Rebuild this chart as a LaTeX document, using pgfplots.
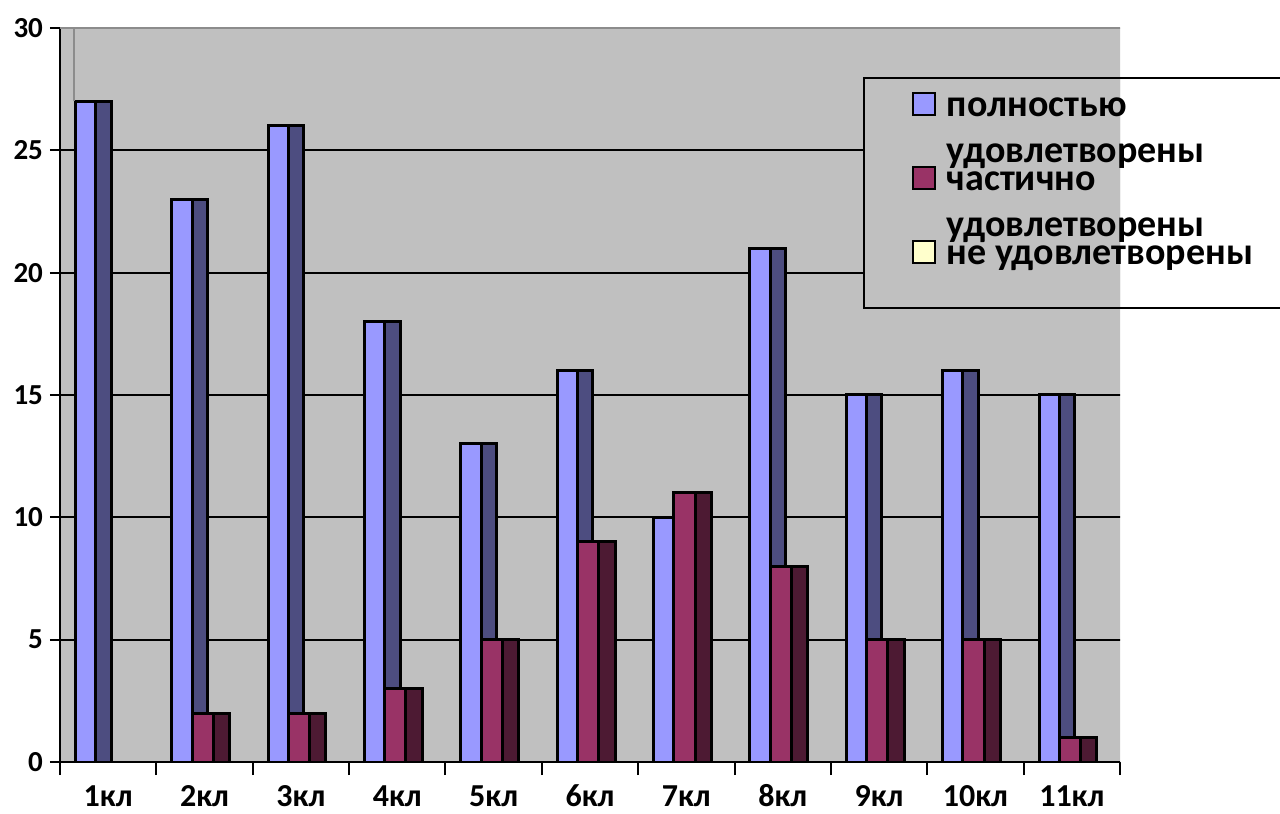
\documentclass[border=0pt]{standalone}
\usepackage{pgfplots}
\usepackage{pgfplotstable}
\pgfplotsset{compat=1.18}
\usepackage{fontspec}
\setmainfont{Carlito}
\definecolor{wall}{HTML}{C0C0C0}
\definecolor{bluef}{HTML}{9999FF}
\definecolor{blues}{HTML}{4D4D80}
\definecolor{marf}{HTML}{993366}
\definecolor{mars}{HTML}{4D1A33}
\definecolor{yel}{HTML}{FFFFCC}
\definecolor{edge}{HTML}{8C8C8C}
\pgfplotstableread{
x full part none
0 27 0 0
1 23 2 0
2 26 2 0
3 18 3 0
4 13 5 0
5 16 9 0
6 10 11 0
7 21 8 0
8 15 5 0
9 16 5 0
10 15 1 0
}\data
\begin{document}
\begin{tikzpicture}
\useasboundingbox (0,0) rectangle (640pt,407pt);
\clip (0,0) rectangle (640pt,407pt);
\begin{axis}[
  at={(30pt,26pt)}, anchor=south west,
  scale only axis, width=530pt, height=367pt,
  xmin=-0.5, xmax=10.5, ymin=0, ymax=30,
  axis lines*=left,
  axis line style={-, line width=1pt, black},
  axis background/.style={fill=wall},
  tick align=outside,
  major tick length=5pt, minor tick length=6.5pt,
  ytick={0,5,...,25},
  extra y ticks={30},
  extra y tick style={grid=none},
  ymajorgrids, grid style={black, line width=1pt},
  ytick style={black, line width=1pt},
  xtick={0,...,10},
  xticklabels={1кл,2кл,3кл,4кл,5кл,6кл,7кл,8кл,9кл,10кл,11кл},
  minor xtick={-0.5,0.5,...,10.5},
  every major x tick/.append style={draw=none},
  every minor x tick/.append style={draw=black, line width=1pt},
  yticklabel style={font=\bfseries\fontsize{14.5}{17}\selectfont},
  xticklabel style={font=\bfseries\fontsize{16}{19}\selectfont, anchor=north, inner ysep=0pt, text height=10.3pt, text depth=0pt, yshift=-6.5pt},
  /pgf/number format/assume math mode=true,
  legend image code/.code={\draw[#1, line width=1pt] (0pt,0.5pt) rectangle (11pt,11.5pt);},
  legend style={at={(0.7575,0.9332)}, anchor=north west, draw=black, line width=1pt, fill=none,
    inner xsep=24pt, inner ysep=2pt, row sep=0pt, column sep=5.5pt,
    font=\bfseries\fontsize{19}{23}\selectfont,
    cells={anchor=base west},
    nodes={anchor=base west, text height=17pt, text depth=20pt, inner sep=0pt}},
]
% bars: front and side faces
\addplot[ybar, forget plot, bar width=0.21, bar shift=-0.235, fill=bluef, draw=black, line width=1.5pt] table[x=x,y=full]{\data};
\addplot[ybar, forget plot, bar width=0.16, bar shift=-0.05, fill=blues, draw=black, line width=1.5pt] table[x=x,y=full]{\data};
\addplot[ybar, forget plot, bar width=0.22, bar shift=-0.02, fill=marf, draw=black, line width=1.5pt] table[x=x,y=part]{\data};
\addplot[ybar, forget plot, bar width=0.17, bar shift=0.175, fill=mars, draw=black, line width=1.5pt] table[x=x,y=part]{\data};
% legend
\addlegendimage{fill=bluef, draw=black}
\addlegendentry{\parbox[t]{170pt}{\raggedright полностью\\удовлетворены}}
\addlegendimage{fill=marf, draw=black}
\addlegendentry{\parbox[t]{170pt}{\raggedright частично\\удовлетворены}}
\addlegendimage{fill=yel, draw=black}
\addlegendentry{\parbox[t]{170pt}{\raggedright не удовлетворены}}
% wall decorations
\fill[wall] (axis cs:10.5,0) rectangle ([xshift=6.5pt]axis cs:10.5,30);
\draw[black, line width=1pt] (axis cs:10.5,5) -- ([xshift=6.5pt]axis cs:10.5,5);
\draw[black, line width=1pt] (axis cs:10.5,10) -- ([xshift=6.5pt]axis cs:10.5,10);
\draw[black, line width=1pt] (axis cs:10.5,15) -- ([xshift=6.5pt]axis cs:10.5,15);
\fill[wall] (axis cs:7.833,18.6) rectangle ([xshift=6.5pt]axis cs:10.5,28.0);
\draw[edge, line width=1pt] ([xshift=7pt]axis cs:-0.5,27) -- ([xshift=7pt]axis cs:-0.5,30);
\draw[edge, line width=1pt] (axis cs:-0.5,30) -- ([xshift=6.5pt]axis cs:10.5,30) -- ([xshift=6.5pt]axis cs:10.5,0) -- (axis cs:10.5,0);
\end{axis}
\end{tikzpicture}
\end{document}
